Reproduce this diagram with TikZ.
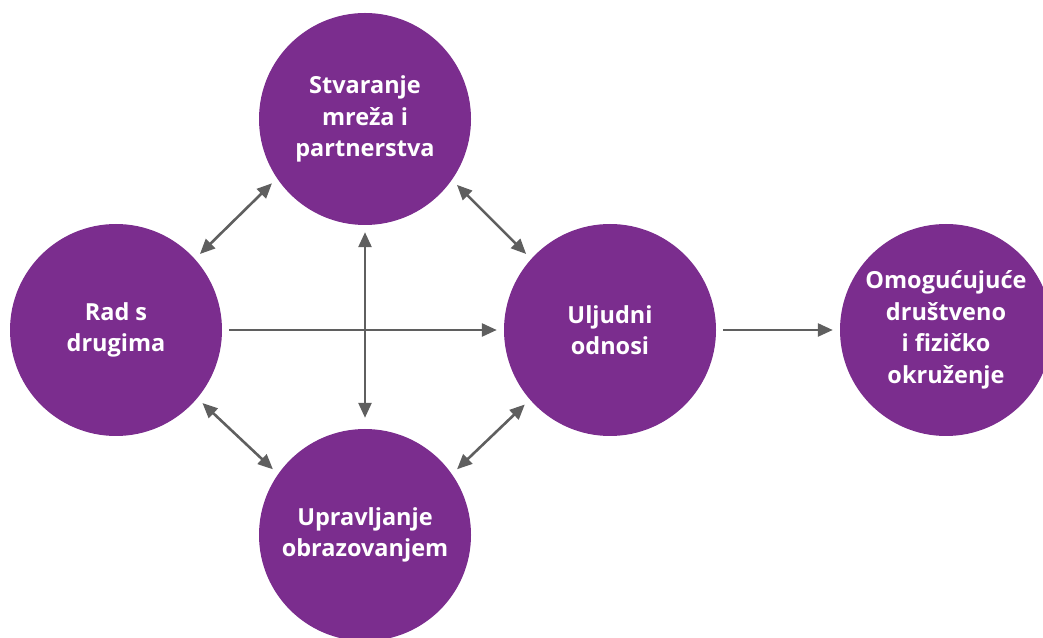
\documentclass[tikz,border=0pt]{standalone}
\usepackage{fontspec}
\setmainfont{Open Sans}
\usetikzlibrary{arrows.meta,positioning}

\definecolor{topicpurple}{RGB}{123,45,142}
\definecolor{linkgray}{RGB}{95,95,95}

\begin{document}
\begin{tikzpicture}[x=1pt,y=1pt,on grid,
        topic/.style={circle, fill=topicpurple, minimum size=212pt, inner sep=0pt,
            text=white, align=center, font=\fontsize{23.5}{31.5}\selectfont\bfseries},
        link/.style={linkgray, line width=2.6pt,
            arrows={-Triangle[length=15pt,width=13pt]}, shorten <=7pt, shorten >=7pt},
        twoway/.style={link, arrows={Triangle[length=15pt,width=13pt]-Triangle[length=15pt,width=13pt]}}]
        \useasboundingbox (0,0) rectangle (1043,637);

        \node[topic] (rad)   at (116,307)                       {Rad s\\drugima};
        \node[topic] (uljud) [right=494pt of rad]               {Uljudni\\odnosi};
        \node[topic] (okol)  [right=336pt of uljud]             {Omogućujuće\\društveno\\i fizičko\\okruženje};
        \node[topic] (mreza) [above right=211pt and 249pt of rad] {Stvaranje\\mreža i\\partnerstva};
        \node[topic] (uprav) [below right=205pt and 249pt of rad] {Upravljanje\\obrazovanjem};

        \draw[twoway] (rad.42)    -- (mreza.214);
        \draw[twoway] (mreza.325) -- (uljud.138);
        \draw[twoway] (rad.320)   -- (uprav.145);
        \draw[twoway] (uprav.35)  -- (uljud.221);
        \draw[twoway, shorten >=11pt] (mreza) -- (uprav);
        \draw[link] (rad) -- (uljud);
        \draw[link] (uljud) -- (okol);
    \end{tikzpicture}
\end{document}
